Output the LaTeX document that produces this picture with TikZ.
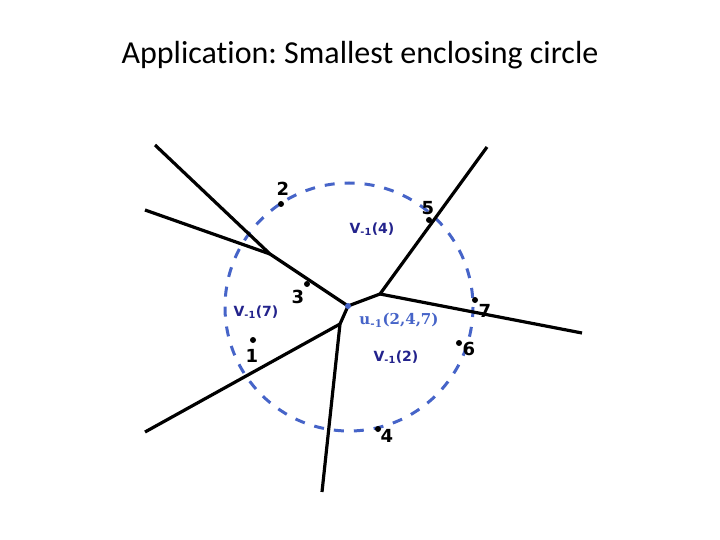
\documentclass[tikz,border=0pt]{standalone}
\usepackage{fontspec}
\setmainfont{Liberation Serif}
\newfontfamily\titlefont[Ligatures=NoCommon]{Carlito}
\newfontfamily\labelfont{DejaVu Sans}
\newfontfamily\centerfont{DejaVu Serif}
\definecolor{circblue}{RGB}{70,100,200}
\definecolor{cellblue}{RGB}{35,35,140}
\tikzset{
  edge/.style={line width=3.2pt},
  site/.style={circle,fill=black,inner sep=0pt,minimum size=6pt},
  sitelabel/.style={font=\labelfont\bfseries\fontsize{18}{18}\selectfont},
  celllabel/.style={text=cellblue,font=\labelfont\bfseries\fontsize{14}{14}\selectfont},
}
\frenchspacing
\begin{document}
\begin{tikzpicture}[x=1pt,y=-1pt]
  \useasboundingbox (0,0) rectangle (720,540);
  \node[font=\titlefont\fontsize{32}{32}\selectfont] (title) at (360,55) {Application: Smallest enclosing circle};
  % voronoi vertices and far ends
  \coordinate (ua) at (348,306);
  \coordinate (ub) at (380,294);
  \coordinate (uc) at (270,254);
  \coordinate (ud) at (340,324);
  \coordinate (e1) at (155,145);
  \coordinate (e2) at (145,210);
  \coordinate (e3) at (487,147);
  \coordinate (e4) at (582,333);
  \coordinate (e5) at (322,492);
  \coordinate (e6) at (145,432);
  \draw[circblue,line width=3pt,dash pattern=on 10pt off 10pt] (349,307) circle (124);
  \draw[edge] (e1) -- (uc) -- (ua);
  \draw[edge] (e2) -- (uc);
  \draw[edge] (ua) -- (ub);
  \draw[edge] (e3) -- (ub) -- (e4);
  \draw[edge] (ua) -- (ud) -- (e5);
  \draw[edge] (ud) -- (e6);
  \fill[circblue] (ua) circle (3pt);
  % sites
  \node[site] (p1) at (253,340) {};
  \node[site] (p2) at (281,204) {};
  \node[site] (p3) at (307,284) {};
  \node[site] (p4) at (378,429) {};
  \node[site] (p5) at (429,220) {};
  \node[site] (p6) at (459,343) {};
  \node[site] (p7) at (475,300) {};
  \node[sitelabel] (l1) at (252,356) {1};
  \node[sitelabel] (l2) at (283,189) {2};
  \node[sitelabel] (l3) at (298,297) {3};
  \node[sitelabel] (l4) at (387,436) {4};
  \node[sitelabel] (l5) at (428,208) {5};
  \node[sitelabel] (l6) at (469,349) {6};
  \node[sitelabel] (l7) at (485,311) {7};
  \node[celllabel] (v4) at (372,229) {V\textsubscript{-1}(4)};
  \node[celllabel] (v7) at (256,312) {V\textsubscript{-1}(7)};
  \node[celllabel] (v2) at (396,357) {V\textsubscript{-1}(2)};
  \node[text=circblue,font=\centerfont\bfseries\fontsize{15}{15}\selectfont] (u) at (399,320) {u\textsubscript{-1}(2,4,7)};
\end{tikzpicture}
\end{document}
